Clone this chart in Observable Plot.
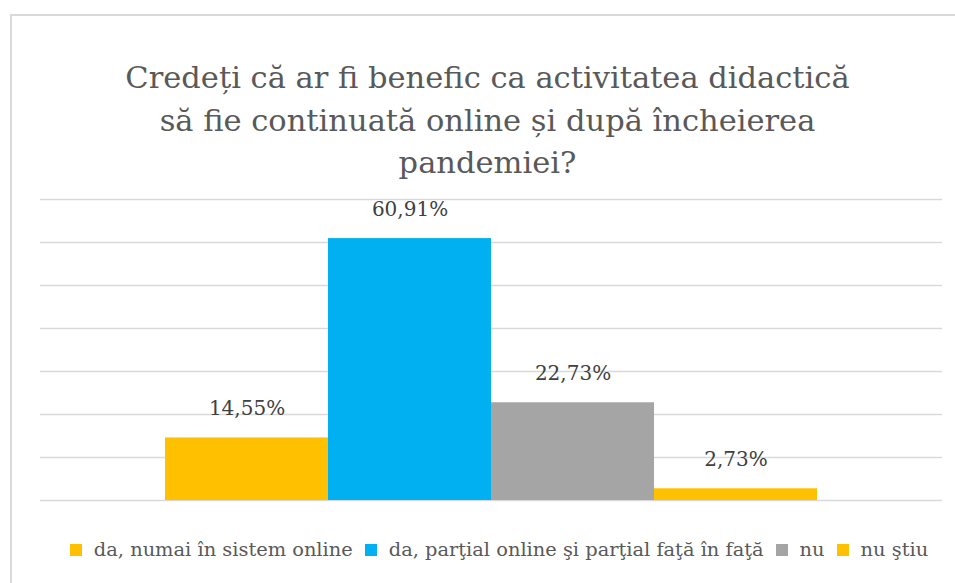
<!DOCTYPE html>
<html>
<head>
<meta charset="utf-8">
<script src="https://cdn.jsdelivr.net/npm/d3@7"></script>
<script src="https://cdn.jsdelivr.net/npm/@observablehq/plot@0.6"></script>
<style>
  html, body { margin: 0; padding: 0; background: #fff; overflow: hidden; font-family: "DejaVu Serif", serif; }
  #hline { position: absolute; left: 10px; top: 14px; width: 945px; height: 1.5px; background: #d9d9d9; }
  #vline { position: absolute; left: 10px; top: 14px; width: 1.5px; height: 569px; background: #d9d9d9; }
  #title { position: absolute; left: 10px; top: 57px; width: 955px; text-align: center; font-size: 30.5px; line-height: 42.5px; color: #595959; }
  #chart { position: absolute; left: 0; top: 180px; }
  #legend { position: absolute; left: 40px; width: 918px; top: 538px; display: flex; justify-content: center; align-items: center; font-size: 19.4px; color: #595959; white-space: nowrap; }
  .item { display: flex; align-items: center; margin: 0 6px; }
  .sw { width: 12px; height: 12px; margin-right: 12px; }
</style>
</head>
<body>
<div id="hline"></div>
<div id="vline"></div>
<div id="title">Credeți că ar fi benefic ca activitatea didactică<br>să fie continuată online și după încheierea<br>pandemiei?</div>
<div id="chart"></div>
<div id="legend"></div>
<script>
const categories = ["da, numai în sistem online", "da, parţial online şi parţial faţă în faţă", "nu", "nu ştiu"];
const values = [14.55, 60.91, 22.73, 2.73];
const valueLabels = ["14,55%", "60,91%", "22,73%", "2,73%"];
const colors = ["#FFC000", "#00B0F0", "#A5A5A5", "#FFC000"];
const yTicks = [0, 10, 20, 30, 40, 50, 60, 70];

const data = categories.map((c, i) => ({category: c, value: values[i], label: valueLabels[i], color: colors[i]}));

const chart = Plot.plot({
  width: 955,
  height: 340,
  marginLeft: 40,
  marginRight: 13,
  marginTop: 19,
  marginBottom: 20,
  style: {fontFamily: "DejaVu Serif", background: "transparent"},
  x: {domain: categories, range: [163, 818], padding: 0, axis: null},
  y: {domain: [0, 70], axis: null},
  color: {type: "identity"},
  marks: [
    Plot.ruleY(yTicks, {stroke: "#d9d9d9", strokeWidth: 1.5}),
    Plot.barY(data, {x: "category", y: "value", fill: "color"}),
    Plot.text(data, {x: "category", y: "value", text: "label", dy: -23, lineAnchor: "bottom", fontSize: 20, fill: "#404040"})
  ]
});
document.getElementById("chart").appendChild(chart);

const legend = document.getElementById("legend");
categories.forEach((c, i) => {
  const item = document.createElement("div");
  item.className = "item";
  const sw = document.createElement("span");
  sw.className = "sw";
  sw.style.background = colors[i];
  const t = document.createElement("span");
  t.textContent = c;
  item.appendChild(sw);
  item.appendChild(t);
  legend.appendChild(item);
});
</script>
</body>
</html>
